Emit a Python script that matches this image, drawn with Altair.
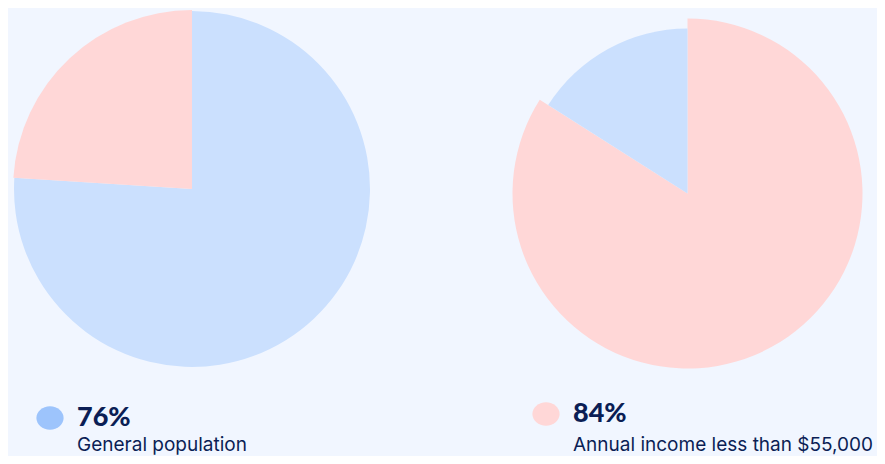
import altair as alt
import pandas as pd

# ---- data ----
groups = ["General population", "Annual income less than $55,000"]
shares = [76, 84]          # highlighted slice (first, clockwise from 12 o'clock)
rests = [24, 16]           # remaining slice
slice_names = ["Share", "Rest"]

BG = "#f1f6ff"
BLUE = "#cbe0fe"
PINK = "#ffd7d7"
BLOB_BLUE = "#9dc4fc"
BLOB_PINK = "#ffd7d7"
NAVY = "#0b1e55"

ELLIPSE = "M -1 0 A 1 0.86 0 1 0 1 0 A 1 0.86 0 1 0 -1 0 Z"


def pie(i, cx, cy, colors, radii):
    df = pd.DataFrame({"slice": slice_names,
                       "value": [shares[i], rests[i]],
                       "rank": [0, 1]})
    base = (alt.Chart(df)
            .transform_window(cum="sum(value)", sort=[alt.SortField("rank")])
            .transform_calculate(start="datum.cum - datum.value"))
    layers = []
    for k, name in enumerate(slice_names):
        layers.append(
            base.transform_filter(alt.datum.slice == name)
            .mark_arc(radius=radii[k], color=colors[k], stroke=None)
            .encode(theta=alt.Theta("start:Q", scale=alt.Scale(domain=[0, 100])),
                    theta2="cum:Q",
                    x=alt.value(cx), y=alt.value(cy))
        )
    return layers


def legend(i, bx, by, tx, ty_pct, ty_lab, blob_color):
    df = pd.DataFrame({"group": groups, "share": shares})
    base = alt.Chart(df).transform_filter(alt.datum.group == groups[i])
    blob = base.mark_point(shape=ELLIPSE, size=740, filled=True, opacity=1,
                           color=blob_color, strokeWidth=0).encode(
        x=alt.value(bx), y=alt.value(by))
    pct = base.transform_calculate(lab="datum.share + '%'").mark_text(
        align="left", baseline="alphabetic", font="Lato", fontWeight=900,
        fontSize=27, color=NAVY).encode(
        x=alt.value(tx), y=alt.value(ty_pct), text="lab:N")
    lab = base.mark_text(
        align="left", baseline="alphabetic", font="Inter", fontWeight=400,
        fontSize=19.0, color=NAVY).encode(
        x=alt.value(tx), y=alt.value(ty_lab), text="group:N")
    return [blob, pct, lab]


layers = []
layers += pie(0, 184, 181, [BLUE, PINK], [178, 179])
layers += pie(1, 679.5, 185.5, [PINK, BLUE], [175, 165])
layers += legend(0, 42, 410, 69, 418, 443, BLOB_BLUE)
layers += legend(1, 538, 406, 565, 414, 443, BLOB_PINK)

chart = (alt.layer(*layers)
         .properties(width=869, height=448, background=BG, padding=0,
                     autosize="none")
         .configure_view(strokeWidth=0))

chart.save("out.html", embed_options={"renderer": "svg", "actions": False})
